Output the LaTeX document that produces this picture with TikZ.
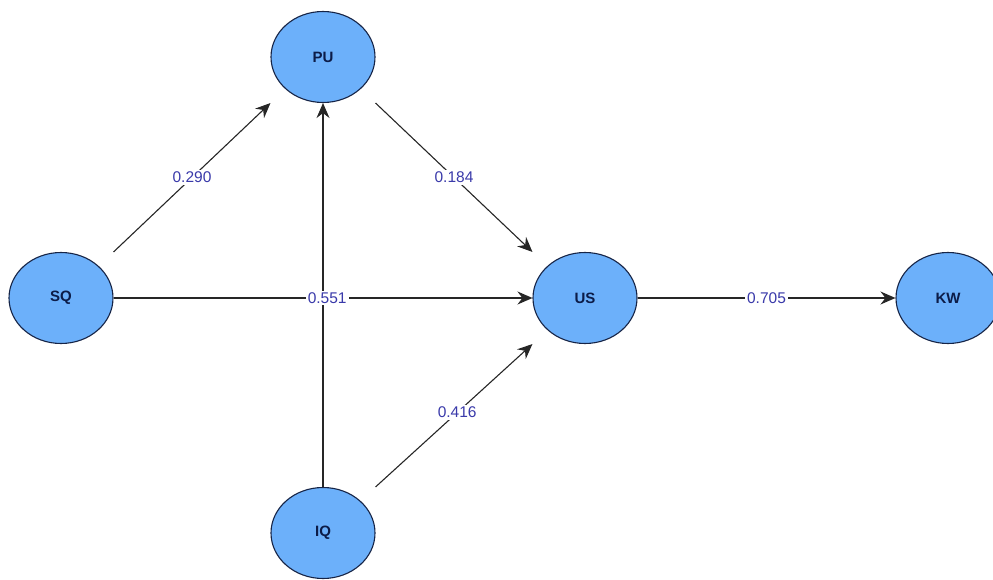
\documentclass[tikz,border=0pt]{standalone}
\usepackage{fontspec}
\setmainfont{Liberation Sans}
\usetikzlibrary{arrows.meta,shapes.geometric}
\definecolor{lvfill}{RGB}{108,176,250}
\definecolor{lvdraw}{RGB}{22,36,70}
\definecolor{lvtext}{RGB}{12,28,72}
\definecolor{coef}{RGB}{58,58,170}
\tikzset{
  latent/.style={ellipse, draw=lvdraw, line width=1.1pt, fill=lvfill,
    minimum width=104pt, minimum height=91pt, inner sep=0pt,
    font=\fontsize{15}{15}\selectfont\bfseries, text=lvtext},
  path/.style={draw=black!85, line width=1.1pt,
    -{Stealth[length=15pt,width=13pt,inset=5pt]}},
  coeflab/.style={fill=white, inner sep=2pt, text=coef,
    font=\fontsize{15.5}{15.5}\selectfont}
}
\begin{document}
\begin{tikzpicture}[x=1pt,y=-1pt]
\useasboundingbox (0,0) rectangle (993,580);
\node[latent] (PU) at (323,57) {PU};
\node[latent] (SQ) at (61,298) {SQ};
\node[latent] (US) at (585,298) {US};
\node[latent] (KW) at (948,298) {KW};
\node[latent] (IQ) at (323,533) {IQ};

\draw[path] (SQ.north -| SQ.east) -- node[coeflab]{0.290} (PU.south -| PU.west);
\draw[path] (PU.south -| PU.east) -- node[coeflab]{0.184} (US.north -| US.west);
\draw[path] (IQ.north) -- (PU.south);
\draw[path] (SQ.east) -- node[coeflab, pos=0.51]{0.551} (US.west);
\draw[path] (IQ.north -| IQ.east) -- node[coeflab, pos=0.52]{0.416} (US.south -| US.west);
\draw[path] (US.east) -- node[coeflab, pos=0.5]{0.705} (KW.west);
\end{tikzpicture}
\end{document}
